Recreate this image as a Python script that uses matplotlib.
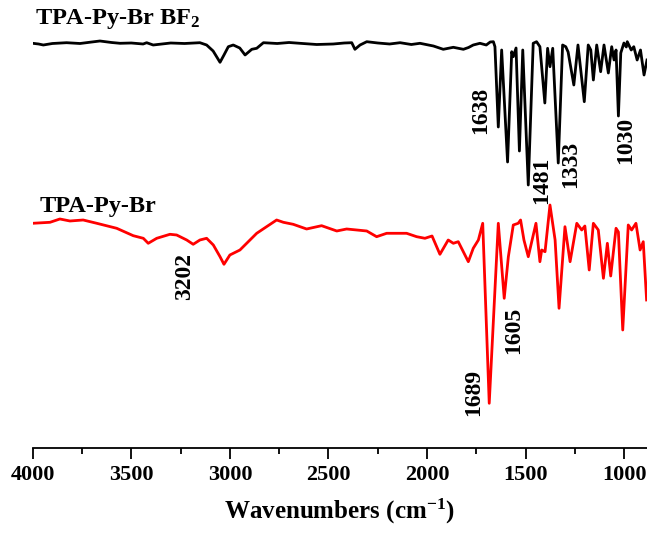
import matplotlib
matplotlib.use("Agg")
import matplotlib.pyplot as plt
from matplotlib.ticker import MultipleLocator

plt.rcParams['font.family'] = ['Liberation Serif', 'DejaVu Serif']
plt.rcParams['font.weight'] = 'bold'
plt.rcParams['mathtext.fontset'] = 'custom'
plt.rcParams['mathtext.rm'] = 'Liberation Serif:bold'
plt.rcParams['mathtext.bf'] = 'Liberation Serif:bold'
plt.rcParams['mathtext.it'] = 'Liberation Serif:bold'

# TPA-Py-Br BF2 spectrum (wavenumber, transmittance a.u., offset)
bf2_wn = [4000, 3970, 3946, 3900, 3828, 3760, 3700, 3659, 3600, 3557, 3500, 3440, 3422,
          3389, 3300, 3230, 3152, 3118, 3085, 3050, 3030, 3008, 2983, 2950,
          2923, 2889, 2864, 2830, 2760, 2700, 2645, 2560, 2476, 2420, 2382, 2366, 2340,
          2306, 2250, 2190, 2137, 2080, 2036,
          1968, 1918, 1867, 1816, 1790, 1766, 1732, 1700, 1680, 1664, 1656, 1639, 1622,
          1592, 1571, 1563, 1549, 1532, 1515, 1487, 1462, 1445, 1428, 1403, 1389,
          1377, 1363, 1335, 1313, 1297, 1285, 1256, 1235, 1203, 1183, 1170, 1157,
          1140, 1120, 1103, 1081, 1064, 1052, 1042, 1030, 1018, 1002, 990, 985,
          965, 952, 935, 918, 900, 885]
bf2_t = [4.047, 4.04, 4.03, 4.045, 4.053, 4.045, 4.06, 4.07, 4.055, 4.047, 4.05, 4.04, 4.053,
         4.03, 4.05, 4.045, 4.053, 4.03, 3.97, 3.857, 3.93, 4.013, 4.03, 4.0,
         3.93, 3.987, 3.997, 4.053, 4.045, 4.055, 4.047, 4.035, 4.04, 4.05, 4.053, 3.987, 4.03,
         4.063, 4.05, 4.04, 4.053, 4.035, 4.047,
         4.02, 3.987, 4.007, 3.987, 4.005, 4.03, 4.047, 4.03, 4.06, 4.063, 4.013, 3.21, 3.98,
         2.86, 3.963, 3.913, 4.00, 2.97, 3.98, 2.63, 4.047, 4.063, 4.013, 3.45, 3.997,
         3.813, 3.997, 2.85, 4.03, 4.013, 3.96, 3.63, 4.03, 3.463, 4.03, 3.98, 3.68,
         4.03, 3.763, 4.03, 3.75, 4.013, 3.88, 3.98, 3.32, 3.95, 4.05, 4.01, 4.063,
         3.98, 4.013, 3.88, 3.98, 3.73, 3.88]

# TPA-Py-Br spectrum
br_wn = [4000, 3912, 3862, 3811, 3744, 3675, 3574, 3490, 3439, 3414, 3371, 3304,
         3270, 3219, 3186, 3152, 3118, 3084, 3050, 3030, 3000, 2949, 2864, 2814,
         2763, 2729, 2679, 2611, 2535, 2458, 2408, 2306, 2256, 2205, 2104, 2053,
         2011, 1975, 1935, 1893, 1867, 1842, 1791, 1766, 1740, 1718, 1685, 1639,
         1609, 1588, 1563, 1538, 1526, 1509, 1487, 1448, 1428, 1419, 1402, 1377,
         1351, 1331, 1301, 1275, 1241, 1216, 1200, 1178, 1157, 1132, 1106, 1086,
         1069, 1042, 1030, 1008, 980, 963, 941, 920, 904, 887]
br_t = [2.247, 2.257, 2.29, 2.27, 2.28, 2.247, 2.197, 2.123, 2.097, 2.047, 2.097, 2.137,
        2.13, 2.08, 2.037, 2.08, 2.097, 2.03, 1.913, 1.837, 1.93, 1.98, 2.147, 2.213,
        2.28, 2.257, 2.237, 2.19, 2.223, 2.17, 2.19, 2.17, 2.113, 2.147, 2.147, 2.113,
        2.097, 2.12, 1.937, 2.08, 2.047, 2.063, 1.863, 1.997, 2.08, 2.247, 0.447, 2.247,
        1.497, 1.913, 2.23, 2.247, 2.28, 2.08, 1.913, 2.247, 1.863, 1.98, 1.963, 2.43,
        2.08, 1.397, 2.213, 1.863, 2.247, 2.18, 2.22, 1.78, 2.247, 2.18, 1.697, 2.047,
        1.72, 2.197, 2.16, 1.18, 2.23, 2.18, 2.247, 1.98, 2.063, 1.48]

xticks = [4000, 3500, 3000, 2500, 2000, 1500, 1000]
series_names = [r'TPA-Py-Br BF$_2$', 'TPA-Py-Br']
bf2_peaks = ['1638', '1481', '1333', '1030']
br_peaks = ['3202', '1689', '1605']

fig = plt.figure(figsize=(6.47, 5.33), dpi=100)
ax = fig.add_axes([0.0505, 0.1595, 0.9495, 0.8405])
ax.plot(bf2_wn, bf2_t, color='black', lw=2.0)
ax.plot(br_wn, br_t, color='#ff0000', lw=2.0)
ax.set_xlim(4000, 885)
ax.set_ylim(0, 4.48)

for s in ['left', 'right', 'top']:
    ax.spines[s].set_visible(False)
ax.spines['bottom'].set_linewidth(1.3)
ax.set_yticks([])
ax.set_xticks(xticks)
ax.set_xticklabels([str(t) for t in xticks])
ax.xaxis.set_minor_locator(MultipleLocator(250))
ax.tick_params(axis='x', which='major', length=8, width=1.3, labelsize=16, pad=4)
ax.tick_params(axis='x', which='minor', length=4, width=1.3)
ax.set_xlabel(r'Wavenumbers (cm$^{-1}$)', fontsize=18, fontweight='bold', labelpad=9)

ax.text(3990, 4.29, series_names[0], fontsize=17.5, fontweight='bold', ha='left', va='center')
ax.text(3963, 2.41, series_names[1], fontsize=17.5, fontweight='bold', ha='left', va='center')

peak_pos_bf2 = [(1727, 3.38), (1420, 2.68), (1270, 2.84), (991, 3.08)]
for lab, (x, y) in zip(bf2_peaks, peak_pos_bf2):
    ax.text(x, y, lab, rotation=90, fontsize=17, fontweight='bold', ha='center', va='center')
peak_pos_br = [(3228, 1.71), (1762, 0.56), (1559, 1.18)]
for lab, (x, y) in zip(br_peaks, peak_pos_br):
    ax.text(x, y, lab, rotation=90, fontsize=17, fontweight='bold', ha='center', va='center')

fig.savefig('out.png', dpi=100)
